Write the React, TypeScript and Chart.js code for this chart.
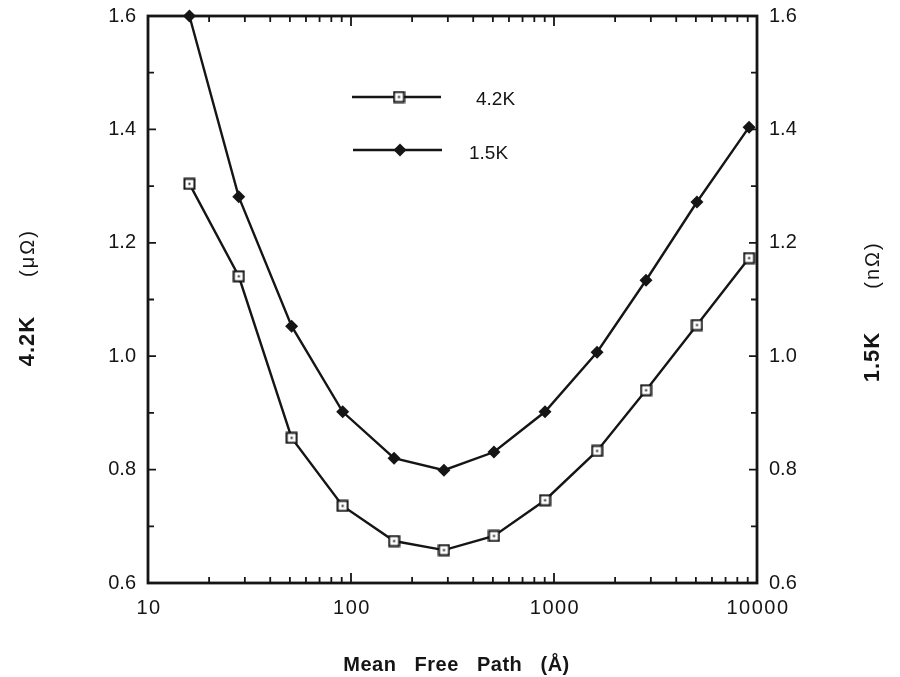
import React, { useEffect, useRef } from 'react';
import { Chart, registerables } from 'chart.js';

Chart.register(...registerables);

// ---- Data ----
const meanFreePath = [16, 28, 51, 91, 163, 287, 506, 903, 1630, 2840, 5060, 9140];
const res42K = [1.304, 1.141, 0.856, 0.736, 0.674, 0.658, 0.683, 0.746, 0.833, 0.94, 1.055, 1.173];
const res15K = [1.6, 1.281, 1.053, 0.902, 0.82, 0.799, 0.831, 0.902, 1.007, 1.134, 1.272, 1.404];
const seriesNames = ['4.2K', '1.5K'];
const xTickLabels = [10, 100, 1000, 10000];
const yMin = 0.6;
const yMax = 1.6;
const yStep = 0.2;

const FONT = '"Liberation Sans", Arial, Helvetica, sans-serif';
const INK = '#151515';

function makeSquareMarker(): HTMLCanvasElement {
  const c = document.createElement('canvas');
  c.width = 13;
  c.height = 13;
  const g = c.getContext('2d')!;
  g.fillStyle = '#ffffff';
  g.fillRect(1, 1, 11, 11);
  g.strokeStyle = INK;
  g.lineWidth = 2;
  g.strokeRect(1.5, 1.5, 10, 10);
  g.fillStyle = INK;
  g.fillRect(5.5, 5.5, 2, 2);
  return c;
}

function drawDiamond(ctx: CanvasRenderingContext2D, x: number, y: number, r: number) {
  ctx.beginPath();
  ctx.moveTo(x, y - r);
  ctx.lineTo(x + r, y);
  ctx.lineTo(x, y + r);
  ctx.lineTo(x - r, y);
  ctx.closePath();
  ctx.fill();
}

const decorPlugin = {
  id: 'decor',
  beforeDatasetsDraw(chart: any) {
    const { ctx, chartArea: a, scales } = chart;
    const xs = scales.x;
    const ys = scales.y;
    ctx.save();
    ctx.strokeStyle = INK;
    // frame
    ctx.lineWidth = 2.8;
    ctx.strokeRect(a.left, a.top, a.right - a.left, a.bottom - a.top);
    // x ticks (log, inward on top and bottom)
    ctx.lineWidth = 1.8;
    for (let d = 10; d < 10000; d *= 10) {
      for (let m = 1; m <= 9; m++) {
        if (m === 1 && d === 10) continue;
        const v = m * d;
        const px = xs.getPixelForValue(v);
        const len = m === 1 ? 10 : 6;
        ctx.beginPath();
        ctx.moveTo(px, a.bottom);
        ctx.lineTo(px, a.bottom - len);
        ctx.moveTo(px, a.top);
        ctx.lineTo(px, a.top + len);
        ctx.stroke();
      }
    }
    // y ticks (inward on left and right)
    const n = Math.round((yMax - yMin) / 0.1);
    for (let i = 1; i < n; i++) {
      const v = yMin + i * 0.1;
      const py = ys.getPixelForValue(v);
      const len = i % 2 === 0 ? 8 : 6;
      ctx.beginPath();
      ctx.moveTo(a.left, py);
      ctx.lineTo(a.left + len, py);
      ctx.moveTo(a.right, py);
      ctx.lineTo(a.right - len, py);
      ctx.stroke();
    }
    ctx.restore();
  },
  afterDraw(chart: any) {
    const { ctx, chartArea: a, scales } = chart;
    const xs = scales.x;
    ctx.save();
    ctx.fillStyle = INK;

    // x tick labels
    ctx.font = `20px ${FONT}`;
    (ctx as any).letterSpacing = '1.5px';
    ctx.textAlign = 'center';
    ctx.textBaseline = 'middle';
    for (const v of xTickLabels) {
      ctx.fillText(String(v), xs.getPixelForValue(v) + 1, a.bottom + 25);
    }

    // x axis title
    ctx.font = `bold 20px ${FONT}`;
    (ctx as any).letterSpacing = '0.5px';
    ctx.fillText('Mean   Free   Path   (Å)', (a.left + a.right) / 2 + 4, 665);

    // left axis title
    ctx.save();
    ctx.translate(28, 341);
    ctx.rotate(-Math.PI / 2);
    ctx.font = `bold 22px ${FONT}`;
    (ctx as any).letterSpacing = '1px';
    ctx.fillText('4.2K', 0, 0);
    ctx.restore();
    ctx.save();
    ctx.translate(28, 253);
    ctx.rotate(-Math.PI / 2);
    ctx.font = `20px ${FONT}`;
    (ctx as any).letterSpacing = '2px';
    ctx.fillText('(μΩ)', 0, 0);
    ctx.restore();

    // right axis title
    ctx.save();
    ctx.translate(873, 357);
    ctx.rotate(-Math.PI / 2);
    ctx.font = `bold 22px ${FONT}`;
    (ctx as any).letterSpacing = '1px';
    ctx.fillText('1.5K', 0, 0);
    ctx.restore();
    ctx.save();
    ctx.translate(873, 265);
    ctx.rotate(-Math.PI / 2);
    ctx.font = `20px ${FONT}`;
    (ctx as any).letterSpacing = '2px';
    ctx.fillText('(nΩ)', 0, 0);
    ctx.restore();

    // legend
    (ctx as any).letterSpacing = '0px';
    const rows = [
      { y: 97, x0: 352, x1: 441, mx: 399, tx: 476, ty: 100 },
      { y: 150, x0: 353, x1: 442, mx: 400, tx: 469, ty: 154 },
    ];
    chart.data.datasets.forEach((ds: any, i: number) => {
      const r = rows[i];
      ctx.strokeStyle = INK;
      ctx.lineWidth = 2.4;
      ctx.beginPath();
      ctx.moveTo(r.x0, r.y);
      ctx.lineTo(r.x1, r.y);
      ctx.stroke();
      if (ds.pointStyle instanceof HTMLCanvasElement) {
        const img = ds.pointStyle as HTMLCanvasElement;
        ctx.drawImage(img, r.mx - img.width / 2, r.y - img.height / 2);
      } else {
        ctx.fillStyle = INK;
        drawDiamond(ctx, r.mx, r.y, 6.5);
      }
      ctx.fillStyle = INK;
      ctx.font = `19px ${FONT}`;
      ctx.textAlign = 'left';
      ctx.textBaseline = 'middle';
      ctx.fillText(seriesNames[i], r.tx, r.ty);
    });
    ctx.restore();
  },
};

function zeroPad(s: any) {
  s.paddingTop = 0;
  s.paddingBottom = 0;
  s.paddingLeft = 0;
  s.paddingRight = 0;
}

export default function App() {
  const ref = useRef<HTMLCanvasElement | null>(null);

  useEffect(() => {
    if (!ref.current) return;
    const square = makeSquareMarker();
    const yTicks = {
      color: INK,
      padding: 12,
      font: { family: FONT, size: 20 },
      stepSize: yStep,
      callback: (v: any) => Number(v).toFixed(1),
    };
    const chart = new Chart(ref.current, {
      type: 'line',
      data: {
        datasets: [
          {
            label: seriesNames[0],
            data: meanFreePath.map((x, i) => ({ x, y: res42K[i] })),
            borderColor: INK,
            borderWidth: 2.4,
            pointStyle: square as any,
            pointRadius: 6,
            backgroundColor: '#fff',
            yAxisID: 'y',
            clip: 12 as any,
          },
          {
            label: seriesNames[1],
            data: meanFreePath.map((x, i) => ({ x, y: res15K[i] })),
            borderColor: INK,
            borderWidth: 2.4,
            pointStyle: 'rectRot',
            pointRadius: 6.5,
            pointBorderWidth: 0,
            backgroundColor: INK,
            pointBackgroundColor: INK,
            yAxisID: 'y2',
            clip: 12 as any,
          },
        ],
      },
      options: {
        animation: false,
        responsive: false,
        maintainAspectRatio: false,
        layout: { padding: { top: 16, left: 0, right: 0, bottom: 0 } },
        plugins: { legend: { display: false }, tooltip: { enabled: false } },
        scales: {
          x: {
            type: 'logarithmic',
            min: 10,
            max: 10000,
            grid: { display: false, drawTicks: false },
            border: { display: false },
            ticks: { display: false },
            afterFit: (s: any) => {
              s.height = 94;
              zeroPad(s);
            },
          },
          y: {
            type: 'linear',
            position: 'left',
            min: yMin,
            max: yMax,
            grid: { display: false, drawTicks: false },
            border: { display: false },
            ticks: yTicks,
            afterFit: (s: any) => {
              s.width = 148;
              zeroPad(s);
            },
          },
          y2: {
            type: 'linear',
            position: 'right',
            min: yMin,
            max: yMax,
            grid: { display: false, drawTicks: false },
            border: { display: false },
            ticks: yTicks,
            afterFit: (s: any) => {
              s.width = 143;
              zeroPad(s);
            },
          },
        },
      } as any,
      plugins: [decorPlugin],
    });
    return () => chart.destroy();
  }, []);

  return (
    <div style={{ position: 'absolute', left: 0, top: 0, width: 900, height: 677, background: '#fff' }}>
      <canvas ref={ref} width={900} height={677} style={{ width: 900, height: 677, display: 'block' }} />
    </div>
  );
}
